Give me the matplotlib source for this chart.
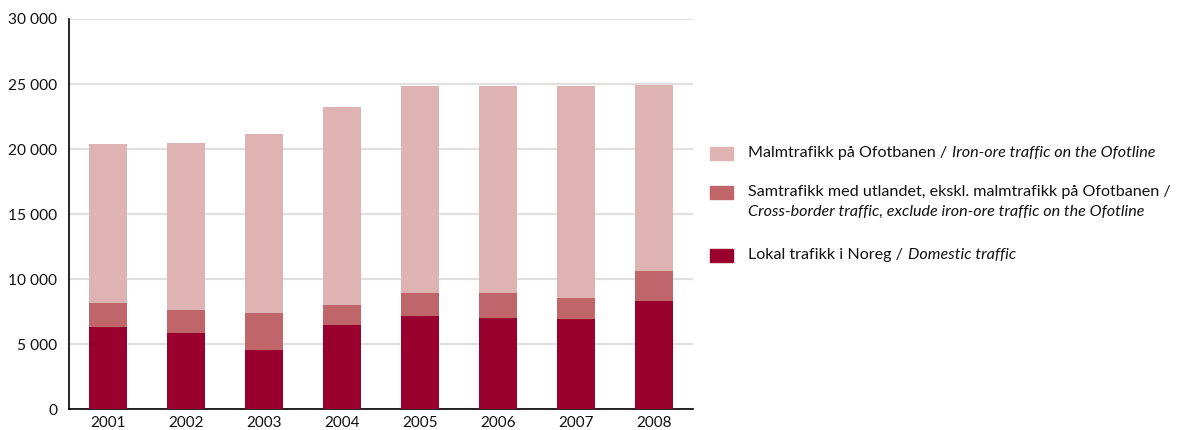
import matplotlib
matplotlib.use("Agg")
import matplotlib.pyplot as plt
from matplotlib.patches import Rectangle
import numpy as np

years = ["2001", "2002", "2003", "2004", "2005", "2006", "2007", "2008"]
lokal = [6330, 5870, 4560, 6480, 7180, 7020, 6950, 8330]
samtrafikk = [1850, 1770, 2850, 1540, 1770, 1930, 1610, 2310]
malm = [12220, 12850, 13770, 15230, 15920, 15920, 16310, 14310]
yticks = [0, 5000, 10000, 15000, 20000, 25000, 30000]
ytick_labels = ["0", "5 000", "10 000", "15 000", "20 000", "25 000", "30 000"]

c_lokal = "#99002E"
c_sam = "#C0666B"
c_malm = "#E0B3B3"

plt.rcParams['font.family'] = ['Lato', 'DejaVu Sans']

W, H = 1178, 430
fig = plt.figure(figsize=(W / 100, H / 100), dpi=100)
ax = fig.add_axes([69 / W, (H - 409.3) / H, (693 - 69) / W, (409.3 - 19) / H])

x = np.arange(len(years))
bw = 0.49
lok = np.array(lokal)
sam = np.array(samtrafikk)
mal = np.array(malm)
ax.bar(x, lok, bw, color=c_lokal, zorder=3)
ax.bar(x, sam, bw, bottom=lok, color=c_sam, zorder=3)
ax.bar(x, mal, bw, bottom=lok + sam, color=c_malm, zorder=3)

ax.set_xlim(-0.5, len(years) - 0.5)
ax.set_ylim(0, 30000)
ax.set_yticks(yticks)
ax.set_yticklabels(ytick_labels, fontsize=11.2, color="#111111")
ax.set_xticks(x)
ax.set_xticklabels(years, fontsize=11, color="#111111")
ax.tick_params(axis='both', length=0)
ax.tick_params(axis='y', pad=8.5)
ax.tick_params(axis='x', pad=5)
ax.yaxis.grid(True, color="#E0E0E0", linewidth=1.6, zorder=0)
ax.set_axisbelow(True)
for s in ["top", "right"]:
    ax.spines[s].set_visible(False)
ax.spines["left"].set_color("black")
ax.spines["bottom"].set_color("black")
ax.spines["left"].set_linewidth(1.2)
ax.spines["bottom"].set_linewidth(1.2)

# custom legend
items = [
    (c_malm, [("Malmtrafikk på Ofotbanen / ", "Iron-ore traffic on the Ofotline")], 153),
    (c_sam, [("Samtrafikk med utlandet, ekskl. malmtrafikk på Ofotbanen /", None),
             ("", "Cross-border traffic, exclude iron-ore traffic on the Ofotline")], 192),
    (c_lokal, [("Lokal trafikk i Noreg / ", "Domestic traffic")], 255),
]
fig.canvas.draw()
renderer = fig.canvas.get_renderer()
fs = 11.6
tx = 748 / W
for color, lines, ypx in items:
    fig.patches.append(Rectangle((710 / W, (H - ypx - 6.5) / H), 23 / W, 13 / H,
                                 transform=fig.transFigure, color=color, figure=fig))
    for i, (rom, ital) in enumerate(lines):
        yy = (H - ypx - i * 20) / H
        xx = tx
        if rom:
            t = fig.text(xx, yy, rom, fontsize=fs, va='center', ha='left', color="#111111")
            bb = t.get_window_extent(renderer=renderer)
            xx = bb.x1 / W + 1 / W
        if ital:
            fig.text(xx, yy, ital, fontsize=fs, style='italic', va='center', ha='left', color="#111111")

fig.savefig("out.png", dpi=100)
